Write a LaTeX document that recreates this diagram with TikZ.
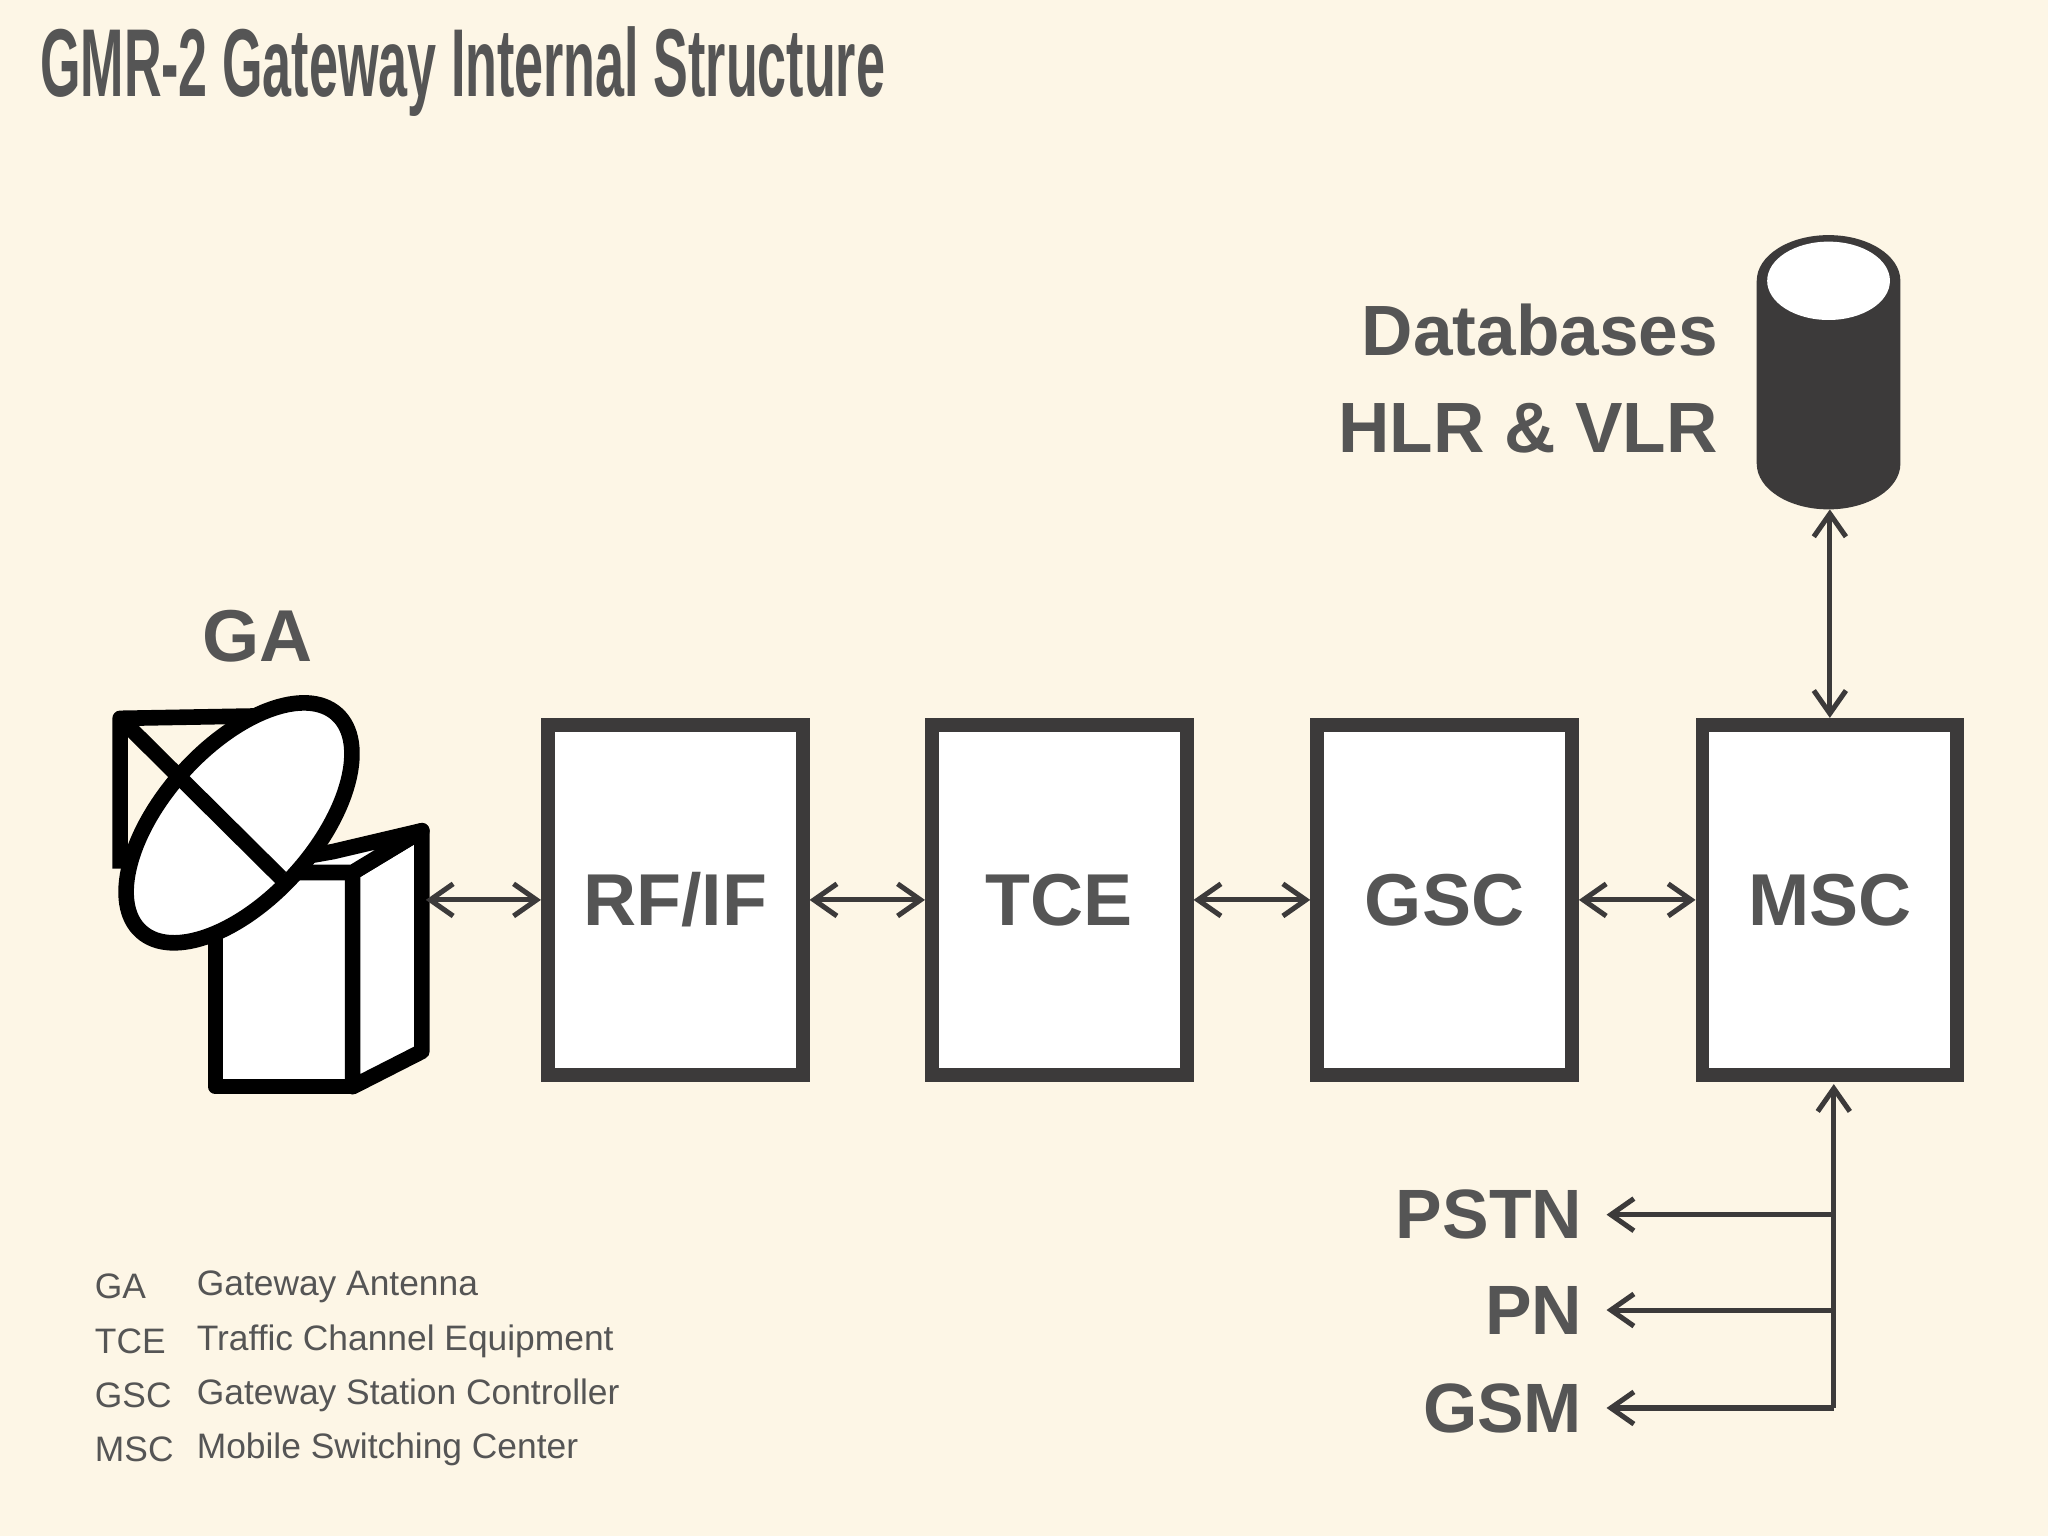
\documentclass[tikz,border=0pt]{standalone}
\usepackage{fontspec}
\setmainfont{Liberation Sans}
\usetikzlibrary{arrows.meta}
\definecolor{bg}{HTML}{FDF6E6}
\definecolor{ink}{HTML}{3C3A3A}
\definecolor{txt}{HTML}{555555}
\begin{document}
\begin{tikzpicture}[x=0.01cm,y=-0.01cm,
  blk/.style={draw=ink,line width=3pt,fill=white,minimum width=1.95cm,minimum height=2.68cm,inner sep=0pt,font=\fontsize{16}{20}\selectfont\bfseries,text=txt},
  big/.style={font=\fontsize{15.2}{19}\selectfont\bfseries,text=txt,inner sep=0pt},
  con/.style={draw=ink,line width=1.1pt,{Straight Barb[length=5pt,width=7pt]}-{Straight Barb[length=5pt,width=7pt]}},
  one/.style={draw=ink,line width=1.1pt,-{Straight Barb[length=5pt,width=7pt]}},
  leg/.style={font=\fontsize{7.7}{10}\selectfont,text=txt,anchor=west,inner sep=0pt}]
\fill[bg] (0,0) rectangle (1568,1176);
\node[anchor=west,inner sep=0pt,text=txt] (title) at (30,55) {\scalebox{0.54}[1]{\fontsize{21}{26}\selectfont\bfseries GMR-2 Gateway Internal Structure}};
% antenna
\begin{scope}[line width=3.4pt,draw=black,line join=round]
\draw[fill=white] (165,668) -- (270,668) -- (270,832) -- (165,832) -- cycle;
\draw[fill=white] (270,668) -- (323,636) -- (323,805) -- (270,832) -- cycle;
\draw[fill=white] (255,652) -- (323,636) -- (270,668) -- (165,668) -- cycle;
\draw (92,665) -- (92,550) -- (205,548);
\draw[fill=white] (183,630) ellipse [x radius=112,y radius=58,rotate=48];
\draw (92,550) -- (215,672);
\end{scope}
\node[big,font=\fontsize{16}{20}\selectfont\bfseries] (ga) at (197,487) {GA};
\node[blk] (rf) at (517,689) {RF/IF};
\node[blk] (tce) at (811,689) {TCE};
\node[blk] (gsc) at (1106,689) {GSC};
\node[blk] (msc) at (1401,689) {MSC};
\coordinate (antr) at (326,689);
\draw[con] (antr) -- (rf);
\draw[con] (rf) -- (tce);
\draw[con] (tce) -- (gsc);
\draw[con] (gsc) -- (msc);
% database
\fill[ink] (1345,215) -- (1345,355) arc[start angle=180,end angle=0,x radius=55,y radius=35] -- (1455,215) arc[start angle=0,end angle=-180,x radius=55,y radius=35] -- cycle;
\fill[white] (1400,215) ellipse [x radius=47,y radius=30];
\coordinate (db) at (1401,390);
\draw[con] (db) -- (msc.north);
\node[big,align=right,anchor=east,font=\fontsize{15.5}{21}\selectfont\bfseries] (dbl) at (1316,290) {Databases\\HLR \& VLR};
% outputs
\coordinate (bus) at (1404,1078);
\draw[one] (bus) -- (1404,830);
\node[big,anchor=east] (pstn) at (1212,930) {PSTN};
\node[big,anchor=east] (pn) at (1212,1003) {PN};
\node[big,anchor=east] (gsm) at (1212,1078) {GSM};
\coordinate (b1) at (1404,930);
\coordinate (b2) at (1404,1003);
\draw[one] (b1) -- (1230,930);
\draw[one] (b2) -- (1230,1003);
\draw[one] (bus) -- (1230,1078);
% legend
\node[leg] (l1) at (72,985) {GA};
\node[leg] (l2) at (72,1027) {TCE};
\node[leg] (l3) at (72,1068) {GSC};
\node[leg] (l4) at (72,1110) {MSC};
\node[leg] (d1) at (150,985) {Gateway Antenna};
\node[leg] (d2) at (150,1027) {Traffic Channel Equipment};
\node[leg] (d3) at (150,1068) {Gateway Station Controller};
\node[leg] (d4) at (150,1110) {Mobile Switching Center};
\end{tikzpicture}
\end{document}
